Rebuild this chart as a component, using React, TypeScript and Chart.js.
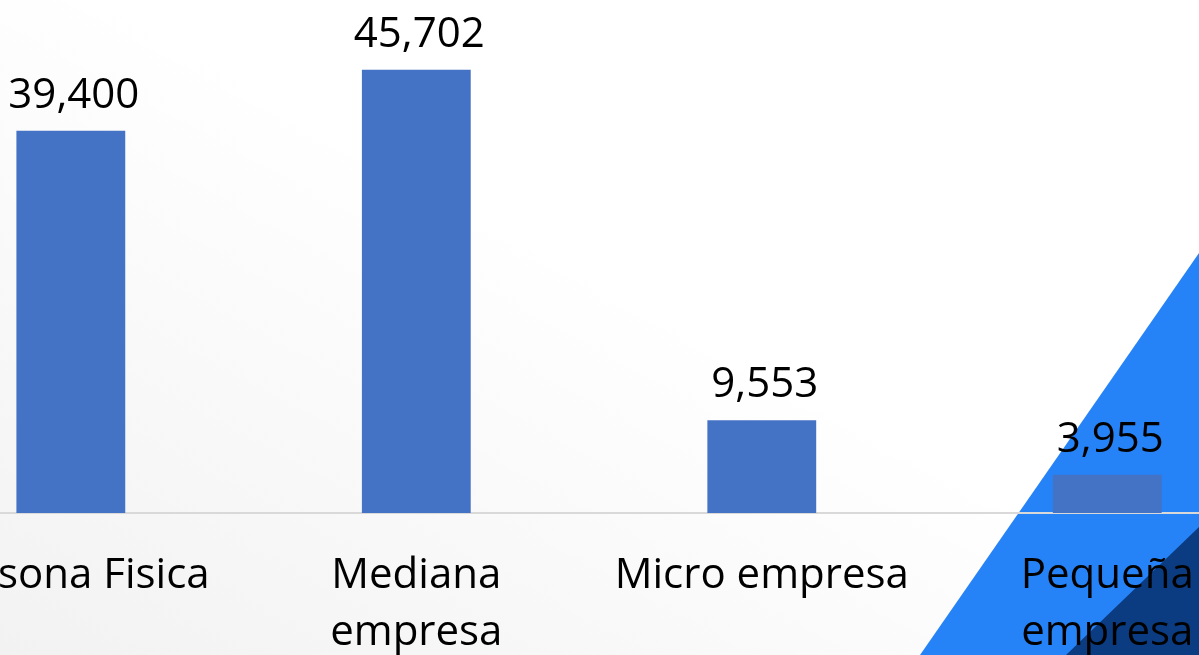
import React, { useEffect, useRef } from "react";
import { Chart, registerables } from "chart.js";

Chart.register(...registerables);

const categories: (string | string[])[] = [
  "Persona Fisica",
  ["Mediana", "empresa"],
  "Micro empresa",
  ["Pequeña", "empresa"],
];
const values = [39400, 45702, 9553, 3955];
const yMin = 0;
const yMax = 50000;

const FONT = '"Open Sans", "Noto Sans", sans-serif';

const valueLabels = {
  id: "valueLabels",
  afterDatasetsDraw(chart: any) {
    const ctx = chart.ctx;
    const meta = chart.getDatasetMeta(0);
    ctx.save();
    ctx.font = `42px ${FONT}`;
    ctx.fillStyle = "#000000";
    ctx.textAlign = "center";
    ctx.textBaseline = "alphabetic";
    meta.data.forEach((bar: any, i: number) => {
      ctx.fillText(values[i].toLocaleString("en-US"), bar.x + 3, bar.y - 23);
    });
    ctx.restore();
  },
};

export default function App() {
  const ref = useRef<HTMLCanvasElement | null>(null);

  useEffect(() => {
    if (!ref.current) return;
    const chart = new Chart(ref.current, {
      type: "bar",
      data: {
        labels: categories,
        datasets: [
          {
            data: values,
            backgroundColor: "#4472C4",
            borderWidth: 0,
            barPercentage: 0.315,
            categoryPercentage: 1,
          },
        ],
      },
      options: {
        responsive: false,
        animation: false,
        devicePixelRatio: 1,
        layout: { padding: { top: 28, left: 0, right: 0, bottom: 0 } },
        plugins: {
          legend: { display: false },
          tooltip: { enabled: false },
          title: { display: false },
        },
        scales: {
          x: {
            grid: { display: false, drawTicks: false },
            border: { display: true, color: "#d9d9d9", width: 2 },
            ticks: {
              color: "#000000",
              font: { family: FONT, size: 42, lineHeight: 1.357 },
              padding: 35,
              maxRotation: 0,
              minRotation: 0,
              autoSkip: false,
            },
            afterFit(scale: any) {
              scale.height = 142;
            },
          },
          y: { display: false, min: yMin, max: yMax },
        },
      },
      plugins: [valueLabels],
    });
    return () => chart.destroy();
  }, []);

  return (
    <div
      style={{
        position: "fixed",
        left: 0,
        top: 0,
        width: 1199,
        height: 655,
        overflow: "hidden",
        background: "linear-gradient(to top right, #f2f2f2 0%, #ffffff 55%)",
      }}
    >
      <div
        style={{
          position: "absolute",
          inset: 0,
          background: "#2683F7",
          clipPath: "polygon(1199px 253px, 920px 655px, 1199px 655px)",
        }}
      />
      <div
        style={{
          position: "absolute",
          inset: 0,
          background: "#0B3C82",
          clipPath: "polygon(1199px 527px, 1066px 655px, 1199px 655px)",
        }}
      />
      <canvas
        ref={ref}
        width={1383}
        height={655}
        style={{
          position: "absolute",
          left: -103,
          top: 0,
          width: 1383,
          height: 655,
        }}
      />
    </div>
  );
}
